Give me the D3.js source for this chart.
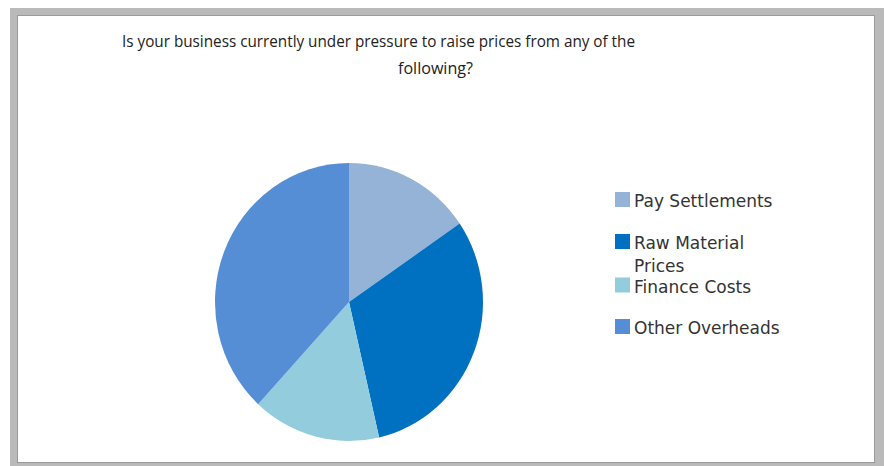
<!DOCTYPE html>
<html>
<head>
<meta charset="utf-8">
<script src="https://cdn.jsdelivr.net/npm/d3@7"></script>
<style>
  body { margin: 0; background: #fff; }
  svg { display: block; }
</style>
</head>
<body>
<svg id="chart" width="884" height="466"></svg>
<script>
	var categories = ["Pay Settlements", "Raw Material Prices", "Finance Costs", "Other Overheads"],
		values = [15, 30, 15, 37],
		colours = ["#95b3d7", "#0070c0", "#93cddd", "#558ed5"],
		legendLines = [["Pay Settlements"], ["Raw Material", "Prices"], ["Finance Costs"], ["Other Overheads"]],
		titleLines = ["Is your business currently under pressure to raise prices from any of the", "following?"];

	var svg = d3.select("#chart");

	// grey frame round the chart area
	svg.append("rect")
		.attr("x", 10).attr("y", 8)
		.attr("width", 874).attr("height", 460)
		.attr("fill", "#bababa");
	svg.append("rect")
		.attr("x", 17.5).attr("y", 15.5)
		.attr("width", 857).attr("height", 447)
		.attr("fill", "#fff")
		.attr("stroke", "#9a9a9a")
		.attr("stroke-width", 1);

	// title, two lines, like the original
	var title = svg.append("g")
		.attr("font-family", "'Liberation Sans Narrow', 'Open Sans', sans-serif")
		.attr("font-size", 16)
		.attr("fill", "#222");
	title.append("text")
		.attr("x", 122).attr("y", 47)
		.attr("textLength", 513).attr("lengthAdjust", "spacingAndGlyphs")
		.text(titleLines[0]);
	title.append("text")
		.attr("x", 398).attr("y", 74)
		.attr("textLength", 75).attr("lengthAdjust", "spacingAndGlyphs")
		.text(titleLines[1]);

	// pie: slightly narrower than tall in the reference
	var ry = 139, rx = 134;
	var pie = d3.pie().sort(null).value(function (d) { return d; });
	var arc = d3.arc().innerRadius(0).outerRadius(ry);

	svg.append("g")
		.attr("transform", "translate(349,302) scale(" + (rx / ry) + ",1)")
		.selectAll("path")
		.data(pie(values))
		.enter()
		.append("path")
		.attr("d", arc)
		.attr("fill", function (d, i) { return colours[i]; });

	// legend
	var legendY = [192, 234, 277.5, 319];
	var legend = svg.append("g")
		.attr("font-family", "'DejaVu Sans', sans-serif")
		.attr("font-size", 17)
		.attr("fill", "#333");

	var item = legend.selectAll("g")
		.data(categories)
		.enter()
		.append("g")
		.attr("transform", function (d, i) { return "translate(615," + legendY[i] + ")"; });

	item.append("rect")
		.attr("width", 15).attr("height", 15)
		.attr("fill", function (d, i) { return colours[i]; });

	item.each(function (d, i) {
		var g = d3.select(this);
		legendLines[i].forEach(function (line, j) {
			g.append("text")
				.attr("x", 19)
				.attr("y", 15 + j * 22.5)
				.text(line);
		});
	});
</script>
</body>
</html>
